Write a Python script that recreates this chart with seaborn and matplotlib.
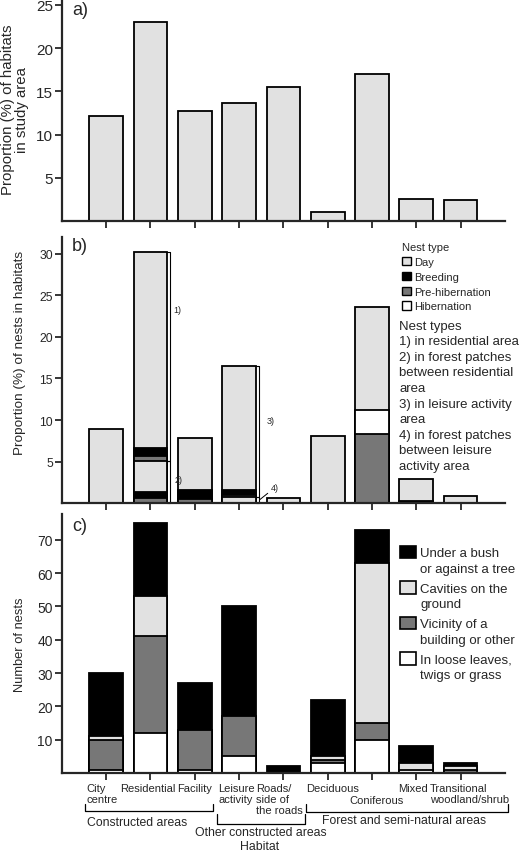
import numpy as np
import seaborn as sns
import matplotlib.pyplot as plt
from matplotlib.patches import Patch
from matplotlib.transforms import ScaledTranslation

sns.set_style("ticks")
plt.rcParams['font.family'] = ['Liberation Sans', 'DejaVu Sans']

habitats = ["City centre", "Residential", "Facility", "Leisure activity",
            "Roads/side of the roads", "Deciduous", "Coniferous", "Mixed",
            "Transitional woodland/shrub"]
tick_labels = ["City\ncentre", "Residential", "Facility", "Leisure\nactivity",
               "Roads/\nside of\nthe roads", "Deciduous", "Coniferous", "Mixed",
               "Transitional\nwoodland/shrub"]

# a) proportion (%) of habitats in study area
habitat_share = [12.2, 23.0, 12.7, 13.7, 15.5, 1.0, 17.0, 2.55, 2.45]

# b) proportion (%) of nests, lower stack (forest patches 2) and 4), other habitats)
prehib_low = [0, 0.65, 0.5, 0, 0, 0, 8.3, 0, 0]
breed_low = [0, 0.7, 1.1, 0, 0, 0, 0, 0.3, 0]
hib_low = [0, 0, 0, 0, 0, 0, 2.9, 0, 0]
day_low = [8.9, 3.75, 6.2, 0.8, 0.65, 8.1, 12.4, 2.6, 0.85]
# upper stack: 1) residential area, 3) leisure activity area
prehib_up = [0, 0.6, 0, 0.2, 0, 0, 0, 0, 0]
breed_up = [0, 0.9, 0, 0.65, 0, 0, 0, 0, 0]
day_up = [0, 23.6, 0, 14.8, 0, 0, 0, 0, 0]
nest_type_labels = ["Day", "Breeding", "Pre-hibernation", "Hibernation"]
nest_groups = ["1) in residential area",
               "2) in forest patches\nbetween residential\narea",
               "3) in leisure activity\narea",
               "4) in forest patches\nbetween leisure\nactivity area"]

# c) number of nests by location
loose = [1, 12, 1, 5, 0, 3, 10, 1, 0]
vicinity = [9, 29, 12, 12, 0, 1, 5, 0, 1]
cavities = [1, 12, 0, 0, 0, 1, 48, 2, 1]
bush = [19, 22, 14, 33, 2, 17, 10, 5, 1]
location_labels = ["Under a bush\nor against a tree", "Cavities on the\nground",
                   "Vicinity of a\nbuilding or other", "In loose leaves,\ntwigs or grass"]

LIGHT = "#e1e1e1"
GREY = "#777777"
W = 0.76
LW = 1.3


def stack_bars(ax, layers, colors):
    # classic seaborn stacking: draw cumulative totals from the top down
    tops = np.cumsum(np.array(layers, dtype=float), axis=0)
    for vals, top, col in reversed(list(zip(layers, tops, colors))):
        h = np.where(np.array(vals) > 0, top, np.nan)
        sns.barplot(x=habitats, y=h, order=habitats, color=col, saturation=1,
                    width=W, edgecolor="black", linewidth=LW, errorbar=None, ax=ax)
    return tops


def style_axis(ax, ymax, yticks, size):
    ax.set_xlim(-1, 9)
    ax.set_ylim(0, ymax)
    ax.set_yticks(yticks)
    ax.tick_params(axis="y", labelsize=size, length=5, width=1.3, pad=1.5)
    ax.tick_params(axis="x", length=5, width=1.3)
    sns.despine(ax=ax)
    for s in ["left", "bottom"]:
        ax.spines[s].set_linewidth(1.6)
    ax.set_xlabel("")


fig = plt.figure(figsize=(5.2, 8.53), dpi=100)
ax_a = fig.add_axes([0.119, 0.7397, 0.852, 0.2579])
ax_b = fig.add_axes([0.119, 0.4088, 0.852, 0.3122])
ax_c = fig.add_axes([0.119, 0.0926, 0.852, 0.3036])

# ---- a)
sns.barplot(x=habitats, y=habitat_share, order=habitats, color=LIGHT, saturation=1,
            width=W, edgecolor="black", linewidth=LW, errorbar=None, ax=ax_a)
style_axis(ax_a, 25.45, [5, 10, 15, 20, 25], 11)
ax_a.set_xticklabels([])
ax_a.set_ylabel("Proportion (%) of habitats\nin study area", fontsize=10.8, linespacing=0.95)
ax_a.yaxis.set_label_coords(-0.075, 0.51)
ax_a.text(0.023, 1.0, "a)", transform=ax_a.transAxes, fontsize=13, va="top")

# ---- b)
tops = stack_bars(ax_b, [prehib_low, breed_low, hib_low, day_low, prehib_up, breed_up, day_up],
                  [GREY, "black", "white", LIGHT, GREY, "black", LIGHT])
style_axis(ax_b, 32, [5, 10, 15, 20, 25, 30], 8.7)
ax_b.set_xticklabels([])
ax_b.set_ylabel("Proportion (%) of nests in habitats", fontsize=9.7)
ax_b.yaxis.set_label_coords(-0.08, 0.57)
ax_b.text(0.023, 1.0, "b)", transform=ax_b.transAxes, fontsize=13, va="top")

# brackets for the nest-type groups (1-4)
low_top = tops[3]
full_top = tops[6]
for i in [1, 3]:
    x0, x1 = i + W / 2, i + W / 2 + 0.07
    for y0, y1 in [(0, low_top[i]), (low_top[i], full_top[i])]:
        ax_b.plot([x0, x1, x1, x0], [y0, y0, y1, y1], color="black", lw=0.8, clip_on=False)
ax_b.text(1.52, 23.3, "1)", fontsize=6.5, va="center")
ax_b.text(1.55, 2.9, "2)", fontsize=6.5, va="center")
ax_b.text(3.63, 9.9, "3)", fontsize=6.5, va="center")
ax_b.annotate("4)", xy=(3.47, 0.45), xytext=(3.72, 1.9), fontsize=6.5, va="center",
              arrowprops=dict(arrowstyle="-", lw=0.7, color="black", shrinkA=0, shrinkB=0))

handles_b = [Patch(facecolor=c, edgecolor="black", linewidth=1)
             for c in [LIGHT, "black", GREY, "white"]]
ax_b.legend(handles_b, nest_type_labels, title="Nest type", loc="upper left",
            bbox_to_anchor=(0.768, 0.98), frameon=False, fontsize=8, title_fontsize=8,
            handlelength=0.8, handleheight=0.8, handletextpad=0.3, labelspacing=0.42,
            borderpad=0, borderaxespad=0, alignment="left")
ax_b.text(0.762, 0.69, "Nest types\n" + "\n".join(nest_groups), transform=ax_b.transAxes,
          fontsize=9.5, va="top", ha="left", linespacing=1.4)

# ---- c)
stack_bars(ax_c, [loose, vicinity, cavities, bush], ["white", GREY, LIGHT, "black"])
style_axis(ax_c, 77.7, [10, 20, 30, 40, 50, 60, 70], 10)
ax_c.set_xticks(range(len(habitats)))
ax_c.set_xticklabels(tick_labels, fontsize=8, linespacing=1.15, multialignment="left")
ax_c.tick_params(axis="x", pad=2)
label_shift_px = [(-4, 0), (-3, 0), (0, 0), (-2.5, 0), (-4, 0), (5, 0), (4, -12.5), (-3, 0), (8.5, 0)]
for lab, (dx, dy) in zip(ax_c.get_xticklabels(), label_shift_px):
    lab.set_transform(lab.get_transform() + ScaledTranslation(dx / 100, dy / 100, fig.dpi_scale_trans))
ax_c.set_ylabel("Number of nests", fontsize=9.3)
ax_c.yaxis.set_label_coords(-0.08, 0.5)
ax_c.text(0.023, 0.99, "c)", transform=ax_c.transAxes, fontsize=13, va="top")

handles_c = [Patch(facecolor=c, edgecolor="black", linewidth=1.2)
             for c in ["black", LIGHT, GREY, "white"]]
leg_c = ax_c.legend(handles_c, location_labels, loc="upper left", bbox_to_anchor=(0.763, 0.872),
                    frameon=False, fontsize=9.5, handlelength=1.25, handleheight=1.1,
                    handletextpad=0.3, labelspacing=0.6, borderpad=0, borderaxespad=0)
for t in leg_c.get_texts():
    t.set_linespacing(1.4)
for h in leg_c.legend_handles:
    h.set_y(h.get_y() + 6.5)

# habitat group brackets under panel c
tr = ax_c.get_xaxis_transform()
brackets = [(-0.47, 2.41, -0.146, -0.12), (2.50, 4.48, -0.197, -0.158), (4.52, 9.08, -0.152, -0.12)]
for x0, x1, yb, yt in brackets:
    ax_c.plot([x0, x0, x1, x1], [yt, yb, yb, yt], transform=tr, color="black", lw=0.9,
              clip_on=False)
ax_c.text(-0.43, -0.19, "Constructed areas", transform=tr, fontsize=8.8, ha="left", va="center")
ax_c.text(3.48, -0.229, "Other constructed areas", transform=tr, fontsize=8.8, ha="center", va="center")
ax_c.text(3.47, -0.281, "Habitat", transform=tr, fontsize=8.8, ha="center", va="center")
ax_c.text(6.73, -0.18, "Forest and semi-natural areas", transform=tr, fontsize=8.8,
          ha="center", va="center")

fig.savefig("out.png", dpi=100)
